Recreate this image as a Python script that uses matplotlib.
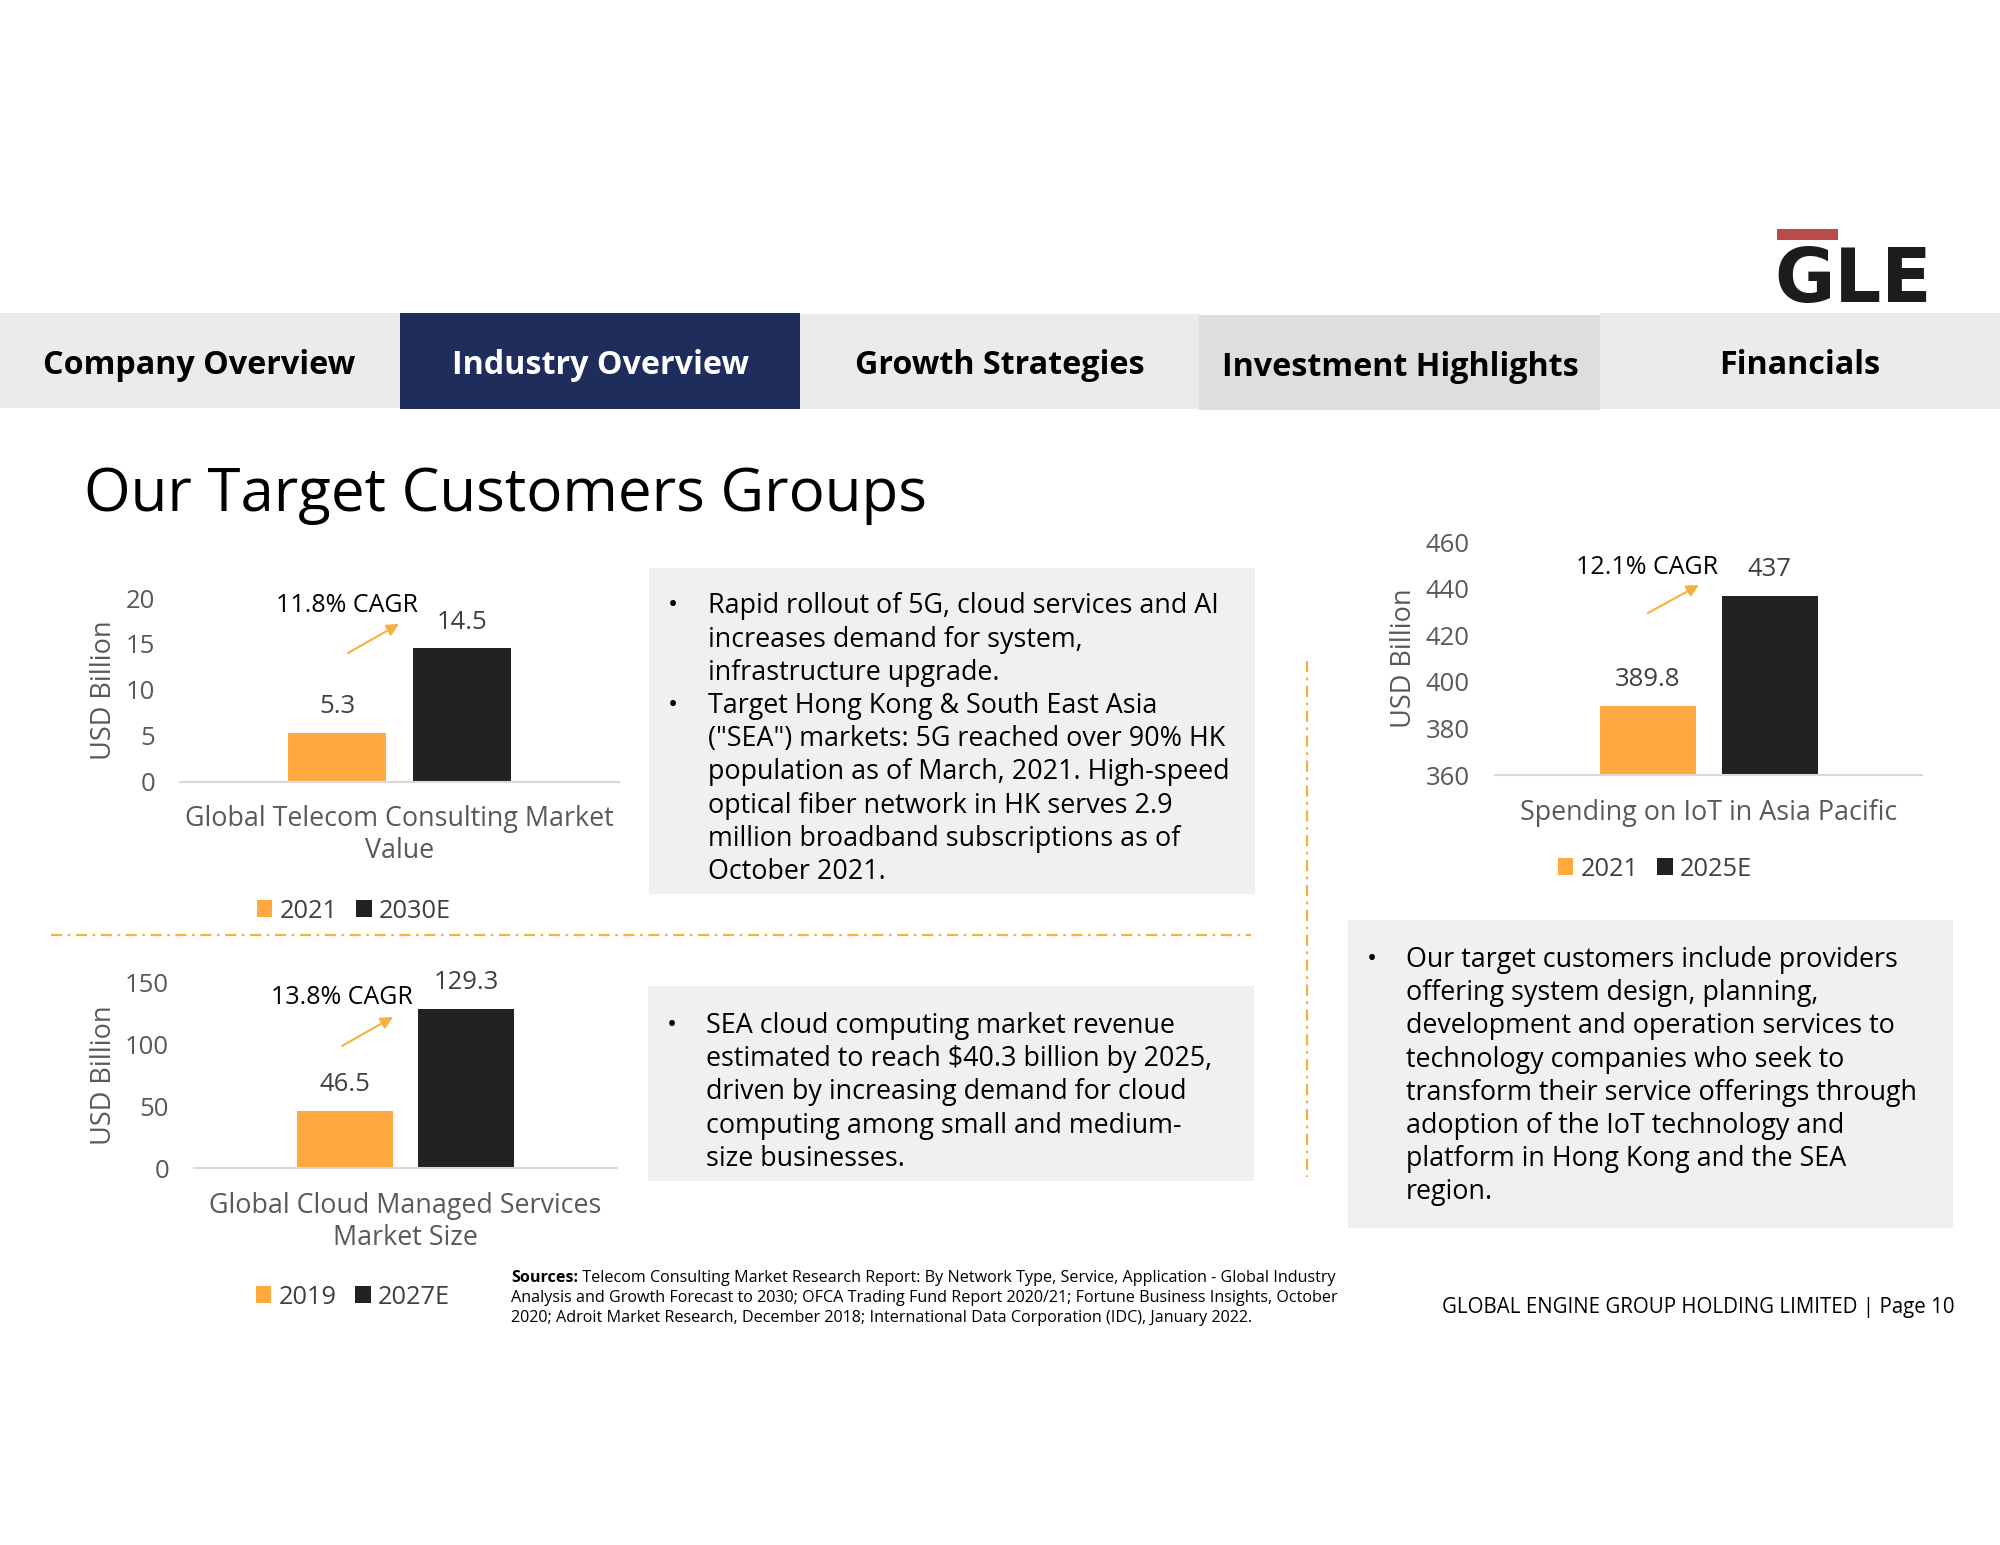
import matplotlib
matplotlib.use("Agg")
import matplotlib.pyplot as plt
from matplotlib.patches import Rectangle

plt.rcParams['font.family'] = ['Open Sans', 'DejaVu Sans']
W, H = 2000, 1545
ORANGE, BLACK = '#FFA940', '#222222'
AXGREY, TXT = '#595959', '#404040'
DASH = '#F4B13E'

# ---- data ----
telecom_cat = ['Global Telecom Consulting Market\nValue']
telecom_series = ['2021', '2030E']
telecom_vals = [5.3, 14.5]
telecom_ticks = [0, 5, 10, 15, 20]

cloud_cat = ['Global Cloud Managed Services\nMarket Size']
cloud_series = ['2019', '2027E']
cloud_vals = [46.5, 129.3]
cloud_ticks = [0, 50, 100, 150]

iot_cat = ['Spending on IoT in Asia Pacific']
iot_series = ['2021', '2025E']
iot_vals = [389.8, 437]
iot_ticks = [360, 380, 400, 420, 440, 460]

nav_labels = ['Company Overview', 'Industry Overview', 'Growth Strategies',
              'Investment Highlights', 'Financials']
box1_lines = [('•', 'Rapid rollout of 5G, cloud services and AI'),
              ('', 'increases demand for system,'),
              ('', 'infrastructure upgrade.'),
              ('•', 'Target Hong Kong & South East Asia'),
              ('', '("SEA") markets: 5G reached over 90% HK'),
              ('', 'population as of March, 2021. High-speed'),
              ('', 'optical fiber network in HK serves 2.9'),
              ('', 'million broadband subscriptions as of'),
              ('', 'October 2021.')]
box2_lines = [('•', 'SEA cloud computing market revenue'),
              ('', 'estimated to reach $40.3 billion by 2025,'),
              ('', 'driven by increasing demand for cloud'),
              ('', 'computing among small and medium-'),
              ('', 'size businesses.')]
box3_lines = [('•', 'Our target customers include providers'),
              ('', 'offering system design, planning,'),
              ('', 'development and operation services to'),
              ('', 'technology companies who seek to'),
              ('', 'transform their service offerings through'),
              ('', 'adoption of the IoT technology and'),
              ('', 'platform in Hong Kong and the SEA'),
              ('', 'region.')]
sources_bold = 'Sources:'
sources_first = ' Telecom Consulting Market Research Report: By Network Type, Service, Application - Global Industry'
sources_rest = ['Analysis and Growth Forecast to 2030; OFCA Trading Fund Report 2020/21; Fortune Business Insights, October',
                '2020; Adroit Market Research, December 2018; International Data Corporation (IDC), January 2022.']

fig = plt.figure(figsize=(W / 100, H / 100), dpi=100, facecolor='white')
bg = fig.add_axes([0, 0, 1, 1], zorder=0)
bg.set_xlim(0, W); bg.set_ylim(H, 0); bg.axis('off')

def rect(x0, y0, x1, y1, c):
    bg.add_patch(Rectangle((x0, y0), x1 - x0, y1 - y0, fc=c, ec='none'))

# nav bar
rect(0, 313, 400, 408, '#EAEBED')
rect(400, 313, 800, 409, '#1F2D5C')
rect(800, 314, 1199, 409, '#EAEBED')
rect(1199, 315, 1600, 410, '#DEDEDE')
rect(1600, 313, 2000, 409, '#EAEBED')
for lab, cx, cy, c in zip(nav_labels, [199, 600, 1000, 1400, 1800], [366, 366, 366, 367, 366],
                          ['black', 'white', 'black', 'black', 'black']):
    bg.text(cx, cy, lab, ha='center', va='center', fontsize=23.2, fontweight='bold', color=c)

# logo
rect(1777, 229, 1838, 240, '#B84C4C')
bg.text(1853, 302, 'GLE', ha='center', va='baseline', fontsize=53, fontweight='bold',
        family='DejaVu Sans', color='#1C1C1C')

# title
bg.text(84, 495, 'Our Target Customers Groups', ha='left', va='center', fontsize=43.2, color='black')

# grey boxes and text
rect(649, 568, 1255, 894, '#F0F0F0')
rect(648, 986, 1254, 1181, '#F0F0F0')
rect(1348, 920, 1953, 1228, '#F0F0F0')

def block(lines, xb, xt, y0):
    for i, (b, t) in enumerate(lines):
        y = y0 + i * 33.2
        if b:
            bg.text(xb, y, b, ha='center', va='center', fontsize=19.4, color='black')
        bg.text(xt, y, t, ha='left', va='center', fontsize=19.4, color='black')

block(box1_lines, 673, 708, 606.5)
block(box2_lines, 672, 706, 1026)
block(box3_lines, 1372, 1406, 960)

# separators
bg.plot([51, 1251], [935, 935], color=DASH, lw=1.6, ls=(0, (5, 2.5, 1.2, 2.5)))
bg.plot([1307, 1307], [661, 1177], color=DASH, lw=1.6, ls=(0, (5, 2.5, 1.2, 2.5)))

# footer
r = fig.canvas.get_renderer()
t0 = bg.text(511, 1277.5, sources_bold, ha='left', va='center', fontsize=11.6, fontweight='bold', color='black')
bb = t0.get_window_extent(r)
bg.text(bb.x1, 1277.5, sources_first, ha='left', va='center', fontsize=11.6, color='black')
for i, l in enumerate(sources_rest):
    bg.text(511, 1298 + i * 20.3, l, ha='left', va='center', fontsize=11.6, color='black')
bg.text(1954, 1307, 'GLOBAL ENGINE GROUP HOLDING LIMITED | Page 10', ha='right', va='center',
        fontsize=14.8, color='black')


def chart(x0, x1, ytop, ybase, cats, series, vals, ticks, ylim, legend_xy, ylabel_x, w_px, off_px):
    ax = fig.add_axes([x0 / W, 1 - ybase / H, (x1 - x0) / W, (ybase - ytop) / H], zorder=2)
    ax.patch.set_alpha(0)
    ax.set_xlim(-0.5, 0.5)
    ax.set_ylim(*ylim)
    width = w_px / (x1 - x0)
    off = off_px / (x1 - x0)
    for v, name, c, s in zip(vals, series, [ORANGE, BLACK], [-1, 1]):
        b = ax.bar([s * off], [v - ylim[0]], bottom=ylim[0], width=width, color=c, label=name)
        ax.bar_label(b, labels=[f'{v:g}'], padding=10, fontsize=18.5, color=TXT)
    for s in ['top', 'left', 'right']:
        ax.spines[s].set_visible(False)
    ax.spines['bottom'].set_color('#D9D9D9')
    ax.spines['bottom'].set_linewidth(1.5)
    ax.set_xticks([0], cats)
    ax.set_yticks(ticks)
    ax.tick_params(axis='y', length=0, pad=18, labelsize=18.5, labelcolor=AXGREY)
    ax.tick_params(axis='x', length=0, pad=17, labelsize=19.4, labelcolor=AXGREY)
    for t in ax.get_xticklabels():
        t.set_linespacing(1.2)
    ax.set_ylabel('USD Billion', fontsize=19.5, color=AXGREY)
    ax.yaxis.set_label_coords((ylabel_x - x0) / (x1 - x0), 0.5)
    ax.legend(loc='center', bbox_to_anchor=(legend_xy[0] / W, 1 - legend_xy[1] / H),
              bbox_transform=fig.transFigure, ncols=2, frameon=False, fontsize=18.3,
              labelcolor=TXT, handlelength=0.62, handleheight=0.62, handletextpad=0.3,
              columnspacing=0.7, borderpad=0)
    return ax

chart(180, 619, 598, 781.5, telecom_cat, telecom_series, telecom_vals, telecom_ticks, (0, 20), (354, 911), 118, 98, 62.5)
chart(194, 617, 983, 1168, cloud_cat, cloud_series, cloud_vals, cloud_ticks, (0, 150), (353, 1297), 118, 96, 60.6)
chart(1495, 1922, 542, 775, iot_cat, iot_series, iot_vals, iot_ticks, (360, 460), (1655, 869), 1418, 96, 61)

# CAGR callouts
for (tx, ty, s, p0, p1) in [(347, 606, '11.8% CAGR', (348, 653), (399, 624)),
                            (342, 998, '13.8% CAGR', (342, 1046), (393, 1017)),
                            (1647, 567, '12.1% CAGR', (1648, 613), (1699, 585))]:
    bg.text(tx, ty, s, ha='center', va='center', fontsize=18, color='black', zorder=5)
    bg.annotate('', xy=p1, xytext=p0,
                arrowprops=dict(arrowstyle='-|>', color=DASH, lw=1.5, mutation_scale=18,
                                shrinkA=0, shrinkB=0))

fig.savefig('out.png', dpi=100)
